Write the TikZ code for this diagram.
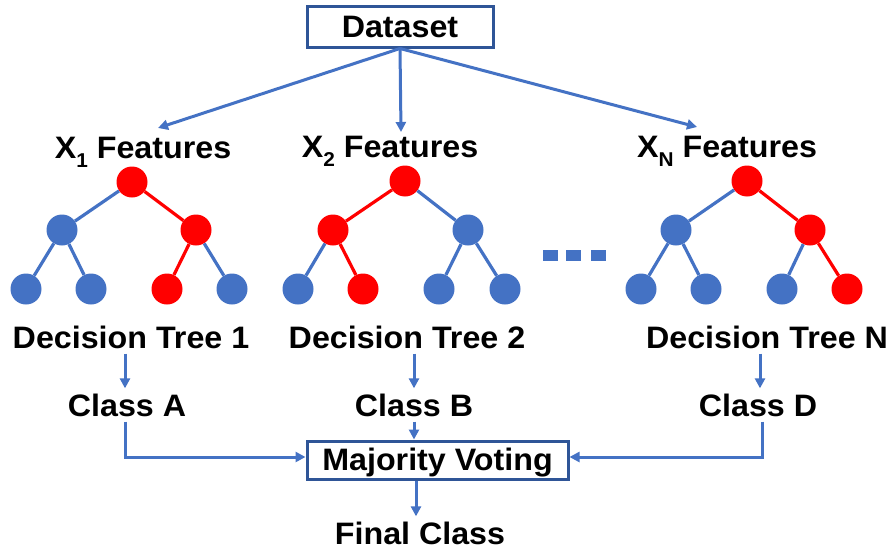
\documentclass[tikz,border=0pt]{standalone}
\usepackage{fontspec}
\setmainfont{Liberation Sans}[FakeStretch=1.04]
\usetikzlibrary{arrows.meta}
\definecolor{nodeblue}{HTML}{4472C4}
\definecolor{nodered}{HTML}{FF0000}
\definecolor{boxblue}{HTML}{2F5597}
\tikzset{
  lbl/.style={font=\fontsize{31}{35}\selectfont\bfseries, inner sep=5pt, anchor=base},
  framebox/.style={draw=boxblue, line width=3pt, font=\fontsize{31}{35}\selectfont\bfseries,
    text height=21pt, text depth=0pt, inner sep=0pt},
  arr/.style={draw=nodeblue, line width=3pt, -{Triangle[length=10pt,width=10pt]}},
  bn/.style={circle, fill=nodeblue, minimum size=31pt, inner sep=0pt},
  rn/.style={circle, fill=nodered, minimum size=31pt, inner sep=0pt},
  be/.style={draw=nodeblue, line width=3.2pt},
  re/.style={draw=nodered, line width=3.2pt},
  dotbox/.style={fill=nodeblue, minimum width=15pt, minimum height=11pt, inner sep=0pt},
}
\newcommand{\xsub}[1]{X\raisebox{-9pt}{\fontsize{20}{20}\selectfont #1}\ }
\begin{document}
\begin{tikzpicture}[x=1pt,y=-1pt]
\useasboundingbox (0,0) rectangle (894,554);

% top box
\node[framebox, minimum width=186pt, minimum height=41pt] (ds) at (400,26.5) {Dataset};

% feature labels
\node[lbl] (f1) at (143,158) {\xsub{1}Features};
\node[lbl] (f2) at (390,157) {\xsub{2}Features};
\node[lbl] (fn) at (727,157) {\xsub{N}Features};
\coordinate (c1) at (158,128);
\coordinate (c2) at (401,132);
\coordinate (cn) at (697,127);
\draw[arr] (ds.south) -- (c1);
\draw[arr] (ds.south) -- (c2);
\draw[arr] (ds.south) -- (cn);

% tree 1
\node[rn] (t1r)  at (132,182) {};
\node[bn] (t1a)  at (62,230) {};
\node[rn] (t1b)  at (196,230) {};
\node[bn] (t1aa) at (26,289) {};
\node[bn] (t1ab) at (91,289) {};
\node[rn] (t1ba) at (167,289) {};
\node[bn] (t1bb) at (232,289) {};
\draw[be] (t1r) -- (t1a);
\draw[re] (t1r) -- (t1b);
\draw[be] (t1a) -- (t1aa);
\draw[be] (t1a) -- (t1ab);
\draw[re] (t1b) -- (t1ba);
\draw[be] (t1b) -- (t1bb);

% tree 2
\node[rn] (t2r)  at (405,181) {};
\node[rn] (t2a)  at (333,230) {};
\node[bn] (t2b)  at (468,230) {};
\node[bn] (t2aa) at (298,289) {};
\node[rn] (t2ab) at (363,289) {};
\node[bn] (t2ba) at (439,289) {};
\node[bn] (t2bb) at (505,289) {};
\draw[re] (t2r) -- (t2a);
\draw[be] (t2r) -- (t2b);
\draw[be] (t2a) -- (t2aa);
\draw[re] (t2a) -- (t2ab);
\draw[be] (t2b) -- (t2ba);
\draw[be] (t2b) -- (t2bb);

% tree N
\node[rn] (tnr)  at (747,181) {};
\node[bn] (tna)  at (676,230) {};
\node[rn] (tnb)  at (810,230) {};
\node[bn] (tnaa) at (641,289) {};
\node[bn] (tnab) at (706,289) {};
\node[bn] (tnba) at (782,289) {};
\node[rn] (tnbb) at (847,289) {};
\draw[be] (tnr) -- (tna);
\draw[re] (tnr) -- (tnb);
\draw[be] (tna) -- (tnaa);
\draw[be] (tna) -- (tnab);
\draw[be] (tnb) -- (tnba);
\draw[re] (tnb) -- (tnbb);

% ellipsis between trees
\node[dotbox] (d1) at (550,255) {};
\node[dotbox] (d2) at (573,255) {};
\node[dotbox] (d3) at (598,255) {};

% tree names
\node[lbl] (dt1) at (131,348) {Decision Tree 1};
\node[lbl] (dt2) at (407,348) {Decision Tree 2};
\node[lbl] (dtn) at (767,348) {Decision Tree N};

% class outputs
\node[lbl] (ca) at (127,416) {Class A};
\node[lbl] (cb) at (414,416) {Class B};
\node[lbl] (cd) at (758,416) {Class D};
\draw[arr] (dt1.south -| 125,0) -- (125,0 |- ca.north);
\draw[arr] (dt2.south -| cb.north) -- (cb.north);
\draw[arr] (dtn.south -| 760,0) -- (760,0 |- cd.north);

% voting
\node[framebox, minimum width=261pt, minimum height=38pt] (mv) at (437.5,460) {Majority Voting};
\draw[arr] (cb.south) -- (mv.north -| cb.south);
\draw[arr] (ca.south -| 125,0) |- ([yshift=3pt]mv.west);
\draw[arr] (cd.south -| 762,0) |- ([yshift=3pt]mv.east);

% final result
\node[lbl] (fc) at (420,544) {Final Class};
\draw[arr] (mv.south -| 416,0) -- (416,0 |- fc.north);
\end{tikzpicture}
\end{document}
